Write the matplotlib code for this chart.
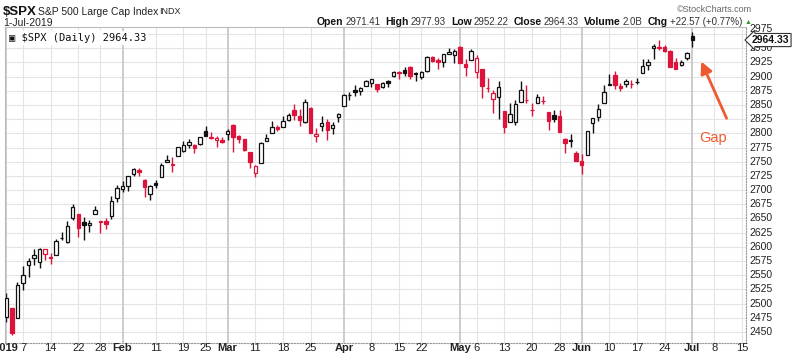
import matplotlib
matplotlib.use('Agg')
import matplotlib.pyplot as plt
import matplotlib.transforms as mtransforms
import numpy as np

# Daily OHLC for $SPX, 2-Jan-2019 .. 1-Jul-2019
dates = ['01-02', '01-03', '01-04', '01-07', '01-08', '01-09', '01-10', '01-11', '01-14', '01-15',
         '01-16', '01-17', '01-18', '01-22', '01-23', '01-24', '01-25', '01-28', '01-29', '01-30',
         '01-31', '02-01', '02-04', '02-05', '02-06', '02-07', '02-08', '02-11', '02-12', '02-13',
         '02-14', '02-15', '02-19', '02-20', '02-21', '02-22', '02-25', '02-26', '02-27', '02-28',
         '03-01', '03-04', '03-05', '03-06', '03-07', '03-08', '03-11', '03-12', '03-13', '03-14',
         '03-15', '03-18', '03-19', '03-20', '03-21', '03-22', '03-25', '03-26', '03-27', '03-28',
         '03-29', '04-01', '04-02', '04-03', '04-04', '04-05', '04-08', '04-09', '04-10', '04-11',
         '04-12', '04-15', '04-16', '04-17', '04-18', '04-22', '04-23', '04-24', '04-25', '04-26',
         '04-29', '04-30', '05-01', '05-02', '05-03', '05-06', '05-07', '05-08', '05-09', '05-10',
         '05-13', '05-14', '05-15', '05-16', '05-17', '05-20', '05-21', '05-22', '05-23', '05-24',
         '05-28', '05-29', '05-30', '05-31', '06-03', '06-04', '06-05', '06-06', '06-07', '06-10',
         '06-11', '06-12', '06-13', '06-14', '06-17', '06-18', '06-19', '06-20', '06-21', '06-24',
         '06-25', '06-26', '06-27', '06-28', '07-01']
opens = [2476.96, 2491.92, 2474.33, 2535.61, 2568.11, 2580.00, 2573.51, 2588.11, 2580.31, 2585.10,
         2614.75, 2609.28, 2651.27, 2657.88, 2643.48, 2638.84, 2657.44, 2644.97, 2644.89, 2653.62,
         2685.49, 2702.32, 2706.49, 2728.34, 2735.05, 2717.53, 2692.36, 2712.40, 2722.61, 2750.30,
         2743.50, 2760.24, 2769.28, 2779.05, 2780.24, 2780.67, 2804.35, 2792.36, 2787.50, 2788.11,
         2798.22, 2814.37, 2794.41, 2790.27, 2766.53, 2730.79, 2747.61, 2787.34, 2799.78, 2810.38,
         2810.79, 2822.61, 2840.76, 2831.34, 2819.72, 2844.52, 2796.01, 2812.66, 2819.72, 2809.40,
         2828.27, 2848.63, 2868.24, 2876.09, 2873.99, 2884.16, 2888.46, 2886.58, 2881.37, 2891.92,
         2900.86, 2908.32, 2912.26, 2916.04, 2904.81, 2898.78, 2909.99, 2934.00, 2928.99, 2925.81,
         2940.58, 2937.14, 2952.33, 2922.16, 2929.21, 2908.89, 2913.03, 2879.61, 2859.84, 2863.10,
         2840.19, 2820.12, 2820.38, 2855.80, 2858.60, 2841.94, 2854.02, 2856.06, 2836.70, 2832.41,
         2830.03, 2790.25, 2786.94, 2766.15, 2751.53, 2762.64, 2818.09, 2828.51, 2852.87, 2885.83,
         2903.27, 2882.73, 2886.24, 2886.82, 2889.75, 2906.71, 2920.55, 2949.60, 2952.71, 2951.42,
         2945.78, 2926.07, 2919.66, 2932.94, 2971.41]
highs = [2519.49, 2493.14, 2538.07, 2566.16, 2579.82, 2595.32, 2597.82, 2596.27, 2589.32, 2613.08,
         2625.76, 2645.06, 2675.47, 2657.88, 2653.19, 2647.20, 2672.38, 2644.97, 2650.93, 2690.44,
         2708.95, 2716.66, 2724.99, 2738.98, 2738.08, 2719.32, 2708.07, 2718.05, 2748.19, 2761.85,
         2757.90, 2775.66, 2787.33, 2789.88, 2781.58, 2794.20, 2813.49, 2803.12, 2795.76, 2793.73,
         2808.02, 2816.88, 2796.44, 2790.27, 2767.25, 2744.13, 2784.00, 2798.32, 2821.24, 2815.00,
         2830.73, 2835.41, 2852.42, 2843.54, 2860.31, 2846.16, 2809.79, 2829.87, 2825.56, 2819.71,
         2836.03, 2869.40, 2872.90, 2885.25, 2881.28, 2893.24, 2895.95, 2886.88, 2889.71, 2893.42,
         2910.54, 2909.60, 2916.06, 2918.00, 2908.40, 2909.51, 2936.31, 2936.83, 2933.10, 2939.88,
         2949.52, 2948.22, 2954.13, 2931.68, 2947.85, 2937.32, 2913.03, 2897.96, 2875.97, 2891.31,
         2840.19, 2852.54, 2858.68, 2892.15, 2885.48, 2853.86, 2868.88, 2865.47, 2836.70, 2841.36,
         2840.51, 2792.03, 2799.00, 2768.98, 2763.07, 2804.49, 2827.28, 2852.10, 2884.97, 2904.77,
         2910.61, 2888.57, 2895.24, 2894.45, 2897.27, 2930.79, 2931.74, 2958.06, 2964.15, 2954.92,
         2946.52, 2932.59, 2929.30, 2943.98, 2977.93]
lows = [2467.47, 2443.96, 2474.33, 2524.56, 2547.56, 2568.89, 2562.02, 2577.40, 2570.41, 2585.10,
        2612.68, 2606.36, 2647.58, 2617.27, 2612.86, 2627.01, 2657.33, 2624.06, 2631.05, 2648.34,
        2678.65, 2696.88, 2698.75, 2724.03, 2724.15, 2687.26, 2681.83, 2703.79, 2722.61, 2748.63,
        2731.23, 2760.24, 2767.29, 2774.06, 2764.55, 2779.11, 2794.99, 2789.47, 2775.13, 2782.51,
        2787.38, 2767.66, 2782.97, 2768.69, 2739.09, 2722.27, 2747.61, 2786.73, 2799.78, 2803.46,
        2810.79, 2821.99, 2823.27, 2812.43, 2817.38, 2800.47, 2785.02, 2803.99, 2787.72, 2798.77,
        2819.23, 2848.63, 2858.75, 2865.17, 2867.14, 2882.99, 2880.78, 2873.33, 2879.13, 2881.99,
        2898.37, 2896.48, 2900.71, 2895.45, 2891.90, 2896.35, 2908.53, 2926.05, 2912.84, 2917.56,
        2939.35, 2924.11, 2923.36, 2900.50, 2929.21, 2898.21, 2862.60, 2873.28, 2836.40, 2825.39,
        2801.43, 2820.12, 2815.08, 2855.80, 2854.23, 2831.29, 2854.02, 2851.11, 2805.49, 2820.19,
        2801.58, 2766.06, 2776.74, 2750.52, 2728.81, 2762.64, 2800.92, 2822.45, 2852.87, 2885.51,
        2878.53, 2874.68, 2881.99, 2879.62, 2886.87, 2905.44, 2911.43, 2931.50, 2946.87, 2944.05,
        2916.01, 2912.99, 2918.57, 2929.05, 2952.22]
closes = [2510.03, 2447.89, 2531.94, 2549.69, 2574.41, 2584.96, 2596.64, 2596.26, 2582.61, 2610.30,
          2616.10, 2635.96, 2670.71, 2632.90, 2638.70, 2642.33, 2664.76, 2643.85, 2640.00, 2681.05,
          2704.10, 2706.53, 2724.87, 2737.70, 2731.61, 2706.05, 2707.88, 2709.80, 2744.73, 2753.03,
          2745.73, 2775.60, 2779.76, 2784.70, 2774.88, 2792.67, 2796.11, 2793.90, 2792.38, 2784.49,
          2803.69, 2792.81, 2789.65, 2771.45, 2748.93, 2743.07, 2783.30, 2791.52, 2810.92, 2808.48,
          2822.48, 2832.94, 2832.57, 2824.23, 2854.88, 2800.71, 2798.36, 2818.46, 2805.37, 2815.44,
          2834.40, 2867.19, 2867.24, 2873.40, 2879.39, 2892.74, 2895.77, 2878.20, 2888.21, 2888.32,
          2907.41, 2905.58, 2907.06, 2900.45, 2905.03, 2907.97, 2933.68, 2927.25, 2926.17, 2939.88,
          2943.03, 2945.83, 2923.73, 2917.52, 2945.64, 2932.47, 2884.05, 2879.42, 2870.72, 2881.40,
          2811.87, 2834.41, 2850.96, 2876.32, 2859.53, 2840.23, 2864.36, 2856.27, 2822.24, 2826.06,
          2802.39, 2783.02, 2788.86, 2752.06, 2744.45, 2803.27, 2826.15, 2843.49, 2873.34, 2886.73,
          2885.72, 2879.84, 2891.64, 2886.98, 2889.67, 2917.75, 2926.46, 2954.18, 2950.46, 2945.35,
          2917.38, 2913.78, 2924.92, 2941.76, 2964.33]
prev_close_first = 2506.85  # close of 31-Dec-2018

# x-axis labels: (trading-day index, text)
tick_pos = [0, 3, 8, 13, 17, 21, 27, 32, 36, 40, 45, 50, 55, 61, 66, 71, 75,
            82, 85, 90, 95, 100, 104, 109, 114, 119, 124, 128, 133]
tick_txt = ['2019', '7', '14', '22', '28', 'Feb', '11', '19', '25', 'Mar', '11', '18', '25',
            'Apr', '8', '15', '22', 'May', '6', '13', '20', '28', 'Jun', '10', '17', '24',
            'Jul', '8', '15']
month_pos = [0, 21, 40, 61, 82, 104, 124]

# header quote line
stat_keys = ['Open', 'High', 'Low', 'Close', 'Volume', 'Chg']
stat_vals = ['2971.41', '2977.93', '2952.22', '2964.33', '2.0B', '+22.57 (+0.77%)']

RED = '#dc143c'
BLK = '#111111'
ORG = '#ee5a2f'

plt.rcParams['font.family'] = ['Liberation Sans', 'DejaVu Sans']
fig = plt.figure(figsize=(8, 3.55), dpi=100)
ax = fig.add_axes([5 / 800, 1 - 343 / 355, 741 / 800, 316 / 355])

n = len(closes)
x = np.arange(n)
o = np.array(opens)
h = np.array(highs)
l = np.array(lows)
c = np.array(closes)
prev = np.concatenate([[prev_close_first], c[:-1]])

# grid
for p in range(2450, 2990, 25):
    ax.axhline(p, color='#e4e4e4', lw=0.8, zorder=0)
for p in tick_pos:
    col = '#c8c8c8' if p in month_pos else '#e4e4e4'
    lw = 1.3 if p in month_pos else 0.8
    ax.axvline(p, color=col, lw=lw, zorder=0)

# candles: black if up vs prior close, red if down; hollow if close > open
w = 0.62
for i in range(n):
    col = BLK if c[i] >= prev[i] else RED
    filled = c[i] < o[i]
    ax.vlines(x[i], l[i], h[i], color=col, lw=1.0, zorder=2)
    lo, hi = min(o[i], c[i]), max(o[i], c[i])
    ht = max(hi - lo, 0.6)
    ax.bar(x[i], ht, w, bottom=lo, facecolor=col if filled else 'white',
           edgecolor=col, linewidth=0.9, zorder=3)

ax.set_xlim(-0.25, 133.7)
ax.set_ylim(2430.6, 2987.3)
ax.set_xticks([])
ax.set_yticks([])
for s in ['top', 'left']:
    ax.spines[s].set_color('#bbbbbb')
    ax.spines[s].set_linewidth(0.8)
for s in ['right', 'bottom']:
    ax.spines[s].set_color('#999999')
    ax.spines[s].set_linestyle((0, (1, 1.5)))

# x labels
xt = mtransforms.blended_transform_factory(ax.transData, fig.transFigure)
for p, t in zip(tick_pos, tick_txt):
    bold = p in month_pos
    ax.text(p, 1 - 348 / 355, t, transform=xt, ha='center', va='center',
            fontsize=8, fontweight='bold' if bold else 'normal', color='#222222', clip_on=False)

# y labels on right
yt = mtransforms.blended_transform_factory(fig.transFigure, ax.transData)
for p in range(2450, 2976, 25):
    ax.text(749 / 800, p, str(p), transform=yt, ha='left',
            va='bottom' if p == 2975 else 'center',
            fontsize=7.5, color='#222222', clip_on=False)
ax.text(752 / 800, c[-1], '%.2f' % c[-1], transform=yt, ha='left', va='center',
        fontsize=7.5, fontweight='bold', color='#111111', clip_on=False, zorder=5,
        bbox=dict(boxstyle='larrow,pad=0.15', fc='white', ec='#333333', lw=0.8))

# header
fig.text(3 / 800, 1 - 12 / 355, '$SPX', fontsize=9.5, fontweight='bold', va='center', color='#111111')
fig.text(38 / 800, 1 - 12 / 355, 'S&P 500 Large Cap Index', fontsize=7.5, va='center', color='#222222')
fig.text(159 / 800, 1 - 12 / 355, 'INDX', fontsize=6.5, va='center', color='#222222')
fig.text(3 / 800, 1 - 23 / 355, '1-Jul-2019', fontsize=7.5, va='center', color='#222222')
fig.text(752 / 800, 1 - 10 / 355, '\u00a9StockCharts.com', fontsize=6.5, va='center', ha='right',
         color='#666666')

# quote line laid out left to right by measured widths
fig.canvas.draw()
r = fig.canvas.get_renderer()
xpos = 317.0
for k, v in zip(stat_keys, stat_vals):
    t = fig.text(xpos / 800, 1 - 22 / 355, k, fontsize=7.5, fontweight='bold', va='center',
                 color='#111111')
    xpos += t.get_window_extent(r).width + 2
    t = fig.text(xpos / 800, 1 - 22 / 355, v, fontsize=7, va='center', color='#333333')
    xpos += t.get_window_extent(r).width + 5
fig.text((xpos - 2) / 800, 1 - 22 / 355, '\u25b2', fontsize=5, va='center', color='#2a9d2a')

ax.text(0.005, 0.965, '\u25a3 $SPX (Daily) 2964.33', transform=ax.transAxes, fontsize=7.5,
        family=['DejaVu Sans Mono', 'DejaVu Sans'], va='center', ha='left', color='#111111',
        bbox=dict(fc='white', ec='none', pad=1.5), zorder=6)

# Gap annotation
ax.annotate('', xy=(125.4, 2931), xytext=(130.4, 2822),
            arrowprops=dict(arrowstyle='-|>,head_length=0.7,head_width=0.35', color=ORG, lw=2),
            zorder=6)
ax.text(127.8, 2791, 'Gap', fontsize=10.5, color=ORG, ha='center', va='center')

fig.savefig('out.png', dpi=100)
